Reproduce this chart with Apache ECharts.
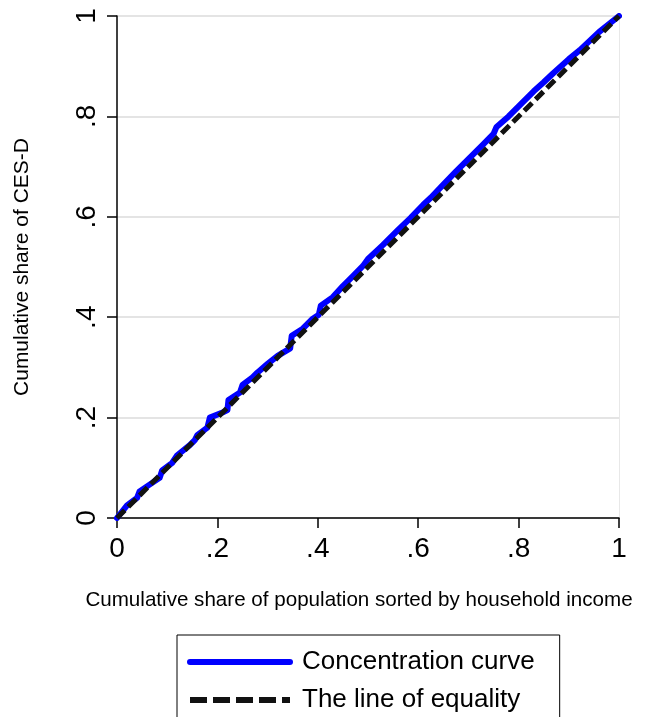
<!DOCTYPE html>
<html>
<head>
<meta charset="utf-8">
<script src="https://cdn.jsdelivr.net/npm/echarts@6/dist/echarts.min.js"></script>
<style>html,body{margin:0;padding:0;background:#fff}#c{width:650px;height:717px}</style>
</head>
<body>
<div id="c"></div>
<script>
// Concentration curve (cumulative population share, cumulative CES-D share)
var ccX = [0, 0.02, 0.04, 0.045, 0.07, 0.085, 0.09, 0.11, 0.12, 0.145, 0.155, 0.16, 0.18, 0.185, 0.21, 0.22, 0.222, 0.245, 0.25, 0.27, 0.28, 0.3, 0.32, 0.345, 0.348, 0.37, 0.39, 0.402, 0.406, 0.43, 0.45, 0.47, 0.49, 0.5, 0.53, 0.56, 0.585, 0.61, 0.625, 0.65, 0.675, 0.7, 0.73, 0.75, 0.756, 0.78, 0.8, 0.83, 0.85, 0.869, 0.9, 0.922, 0.96, 1];
var ccY = [0, 0.025, 0.04, 0.053, 0.07, 0.08, 0.095, 0.11, 0.125, 0.145, 0.155, 0.165, 0.18, 0.2, 0.21, 0.215, 0.235, 0.25, 0.265, 0.28, 0.29, 0.307, 0.323, 0.338, 0.363, 0.377, 0.397, 0.405, 0.423, 0.44, 0.462, 0.482, 0.502, 0.516, 0.544, 0.574, 0.598, 0.624, 0.638, 0.664, 0.69, 0.715, 0.745, 0.765, 0.779, 0.8, 0.82, 0.85, 0.868, 0.886, 0.914, 0.932, 0.968, 1];
// Line of equality
var eqX = [0, 1];
var eqY = [0, 1];
var tickVals = [0, 0.2, 0.4, 0.6, 0.8, 1];
var tickLabels = ['0', '.2', '.4', '.6', '.8', '1'];
var seriesNames = ['Concentration curve', 'The line of equality'];
var xTitle = 'Cumulative share of population sorted by household income';
var yTitle = 'Cumulative share of CES-D';

function pairs(xs, ys) { return xs.map(function (x, i) { return [x, ys[i]]; }); }
function fmt(v) {
  for (var i = 0; i < tickVals.length; i++) if (Math.abs(tickVals[i] - v) < 1e-9) return tickLabels[i];
  return '';
}
var FONT = 'Liberation Sans, Arial, sans-serif';
var chart = echarts.init(document.getElementById('c'), null, {renderer: 'canvas'});
chart.setOption({
  backgroundColor: '#fff',
  animation: false,
  grid: {left: 117, right: 31, top: 16, bottom: 199, containLabel: false},
  xAxis: {
    type: 'value', min: 0, max: 1, interval: 0.2,
    name: xTitle, nameLocation: 'middle', nameGap: 72,
    nameTextStyle: {fontFamily: FONT, fontSize: 20.6, color: '#000', padding: [0, 18, 0, 0]},
    axisLine: {show: true, onZero: false, lineStyle: {color: '#000', width: 1.5}},
    axisTick: {show: true, length: 10, lineStyle: {color: '#000', width: 1.5}},
    axisLabel: {formatter: fmt, fontFamily: FONT, fontSize: 28, color: '#000', margin: 17},
    splitLine: {show: false}
  },
  yAxis: [{
    type: 'value', min: 0, max: 1, interval: 0.2,
    name: yTitle, nameLocation: 'middle', nameGap: 84, nameRotate: 90,
    nameTextStyle: {fontFamily: FONT, fontSize: 21, color: '#000'},
    axisLine: {show: true, onZero: false, lineStyle: {color: '#000', width: 1.5}},
    axisTick: {show: true, length: 10, lineStyle: {color: '#000', width: 1.5}},
    axisLabel: {formatter: fmt, fontFamily: FONT, fontSize: 28, color: '#000', margin: 16, rotate: 90},
    splitLine: {show: true, lineStyle: {color: '#e4e4e4', width: 2}}
  }, {
    type: 'value', min: 0, max: 1, interval: 0.2, position: 'right',
    axisLine: {show: true, onZero: false, lineStyle: {color: '#e8e8e8', width: 1}},
    axisTick: {show: false}, axisLabel: {show: false}, splitLine: {show: false}
  }],
  legend: {
    orient: 'vertical', left: 177, top: 635, height: 140,
    padding: [12, 25, 40, 10],
    borderColor: '#000', borderWidth: 1,
    itemWidth: 100, itemHeight: 14, itemGap: 8,
    textStyle: {fontFamily: FONT, fontSize: 26, color: '#000', lineHeight: 30, padding: [0, 0, 0, 7]},
    data: [
      {name: seriesNames[0], itemStyle: {opacity: 0}, lineStyle: {width: 6}},
      {name: seriesNames[1], itemStyle: {opacity: 0}, lineStyle: {width: 6, type: [17, 6]}}
    ]
  },
  series: [{
    name: seriesNames[0], type: 'line', data: pairs(ccX, ccY),
    symbol: 'none', z: 2,
    lineStyle: {color: '#0000ff', width: 6, cap: 'round', join: 'round'},
    itemStyle: {color: '#0000ff'}
  }, {
    name: seriesNames[1], type: 'line', data: pairs(eqX, eqY),
    symbol: 'none', z: 3,
    lineStyle: {color: '#111', width: 5, type: [11, 5]},
    itemStyle: {color: '#111'}
  }]
});
</script>
</body>
</html>
